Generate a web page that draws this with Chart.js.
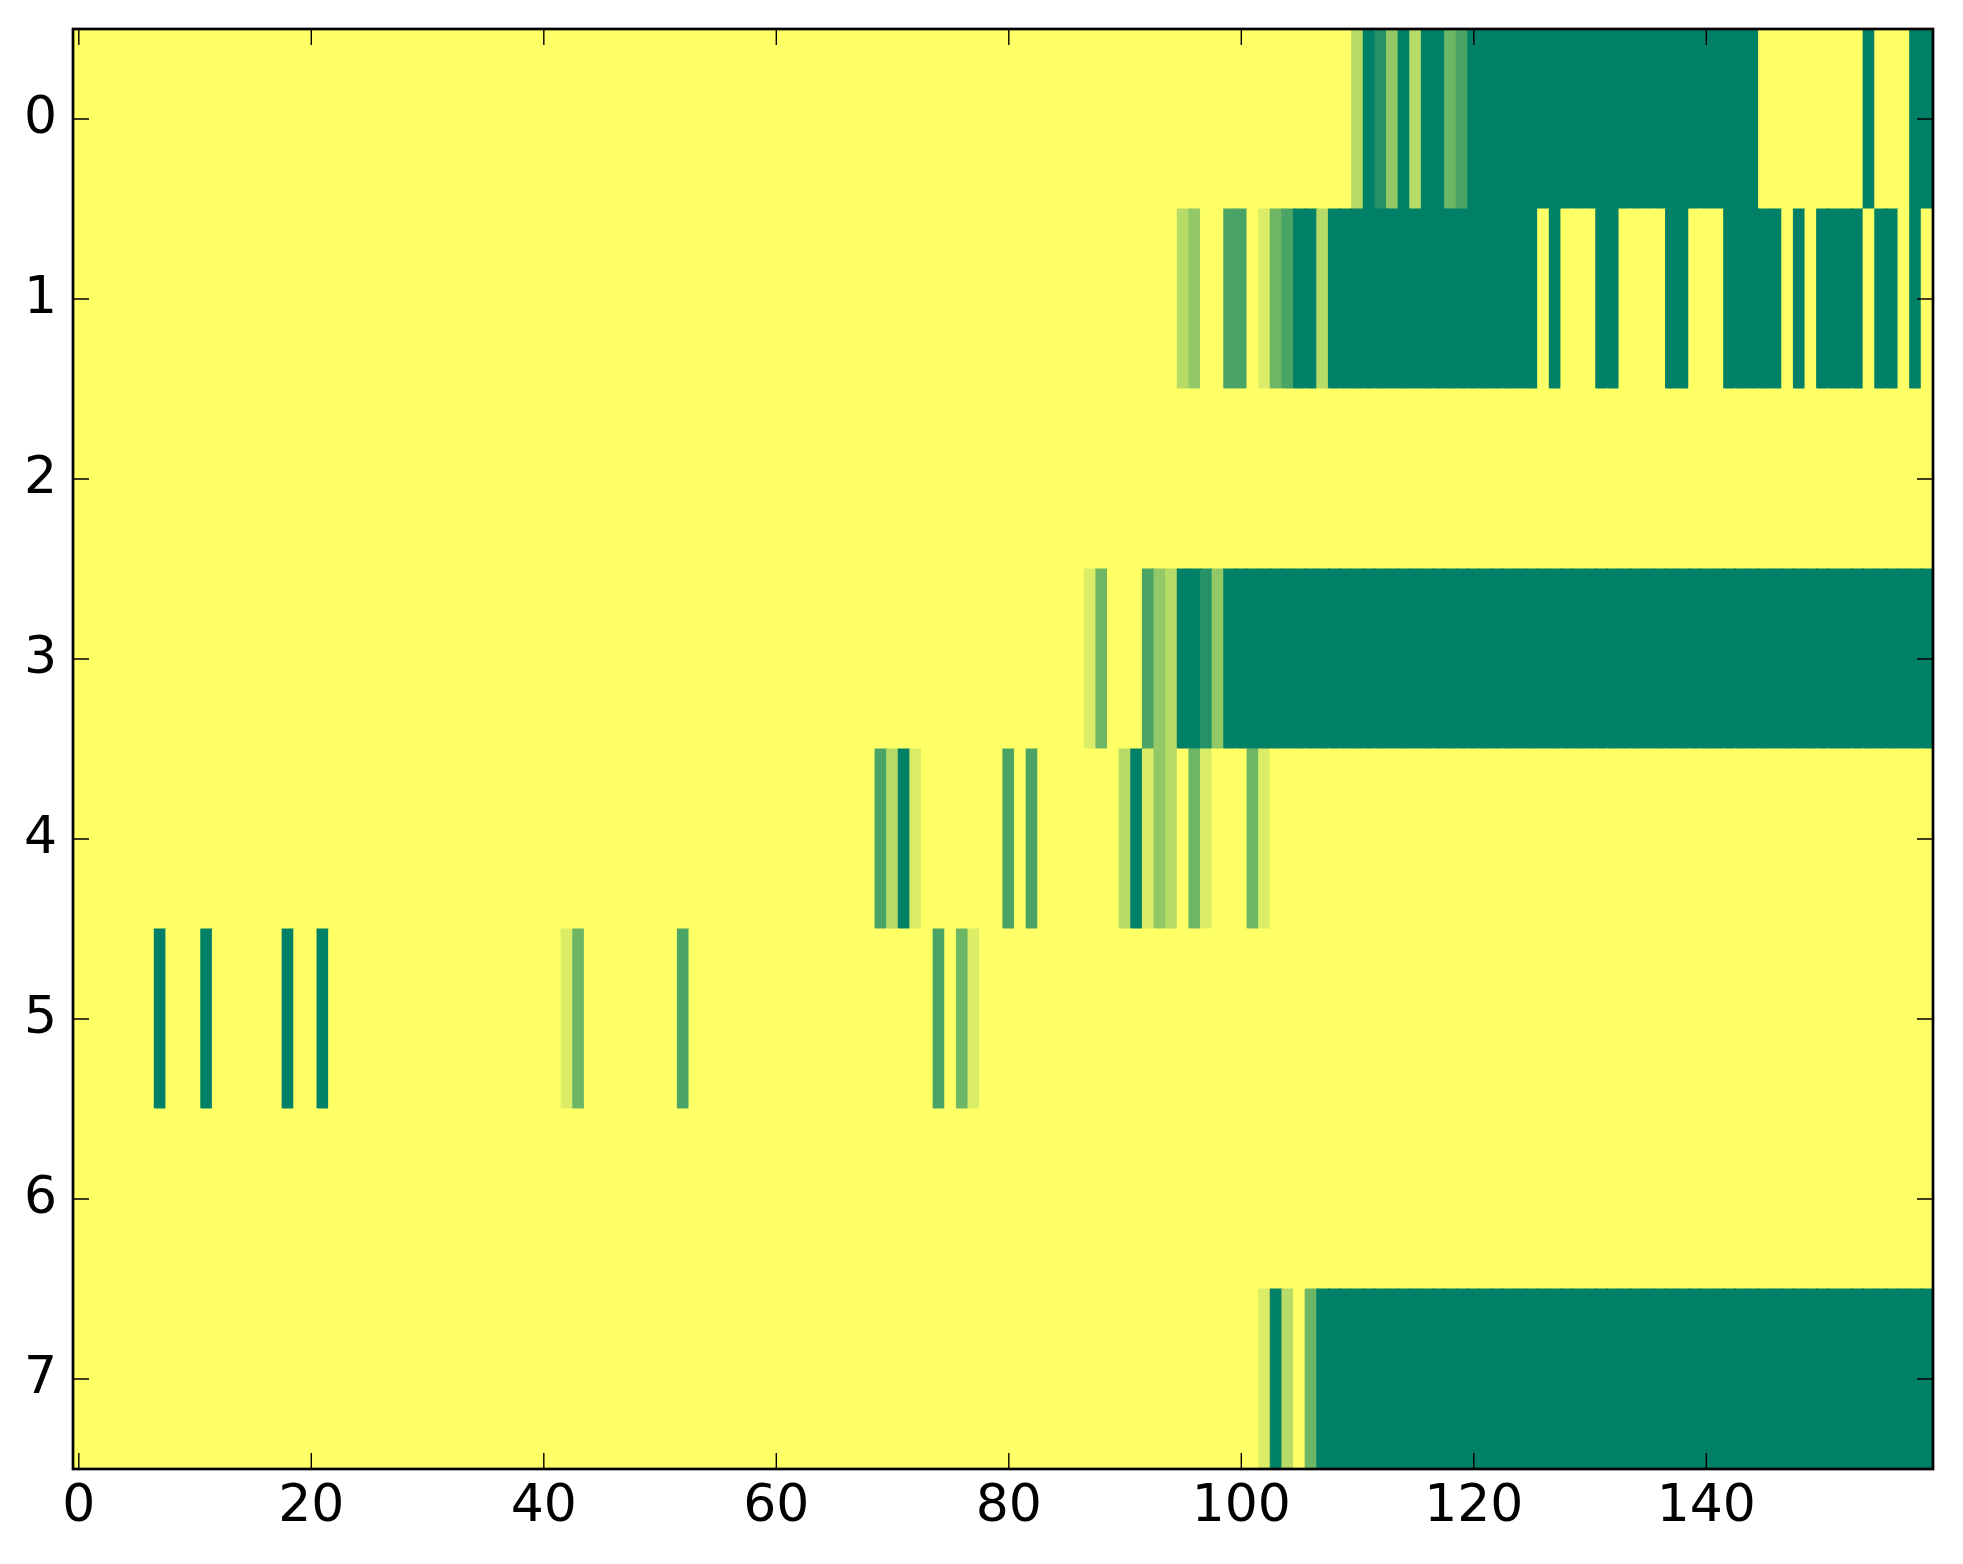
<!DOCTYPE html>
<html>
<head>
<meta charset="utf-8">
<title>heatmap</title>
<script src="https://cdn.jsdelivr.net/npm/chart.js@4.4.0/dist/chart.umd.min.js"></script>
<style>
    html, body { margin: 0; padding: 0; background: #ffffff; }
    canvas { display: block; }
</style>
</head>
<body>
<canvas id="heat" width="1963" height="1564"></canvas>
<script>
// row labels (y) and x tick labels
const rowLabels = ['0', '1', '2', '3', '4', '5', '6', '7']
const xTicks = [0, 20, 40, 60, 80, 100, 120, 140]
const maxLevel = 7

// cell values, one array per row, 160 columns (0..159)
const row0 = [
    0,0,0,0,0,0,0,0,0,0, 0,0,0,0,0,0,0,0,0,0,
    0,0,0,0,0,0,0,0,0,0, 0,0,0,0,0,0,0,0,0,0,
    0,0,0,0,0,0,0,0,0,0, 0,0,0,0,0,0,0,0,0,0,
    0,0,0,0,0,0,0,0,0,0, 0,0,0,0,0,0,0,0,0,0,
    0,0,0,0,0,0,0,0,0,0, 0,0,0,0,0,0,0,0,0,0,
    0,0,0,0,0,0,0,0,0,0, 2,7,6,3,7,2,7,7,4,5,
    7,7,7,7,7,7,7,7,7,7, 7,7,7,7,7,7,7,7,7,7,
    7,7,7,7,7,0,0,0,0,0, 0,0,0,0,7,0,0,0,7,7,
]
const row1 = [
    0,0,0,0,0,0,0,0,0,0, 0,0,0,0,0,0,0,0,0,0,
    0,0,0,0,0,0,0,0,0,0, 0,0,0,0,0,0,0,0,0,0,
    0,0,0,0,0,0,0,0,0,0, 0,0,0,0,0,0,0,0,0,0,
    0,0,0,0,0,0,0,0,0,0, 0,0,0,0,0,0,0,0,0,0,
    0,0,0,0,0,0,0,0,0,0, 0,0,0,0,0,2,3,0,0,5,
    5,0,1,4,5,7,7,2,7,7, 7,7,7,7,7,7,7,7,7,7,
    7,7,7,7,7,7,0,7,0,0, 0,7,7,0,0,0,0,7,7,0,
    0,0,7,7,7,7,7,0,7,0, 7,7,7,7,0,7,7,0,7,0,
]
const row2 = [
    0,0,0,0,0,0,0,0,0,0, 0,0,0,0,0,0,0,0,0,0,
    0,0,0,0,0,0,0,0,0,0, 0,0,0,0,0,0,0,0,0,0,
    0,0,0,0,0,0,0,0,0,0, 0,0,0,0,0,0,0,0,0,0,
    0,0,0,0,0,0,0,0,0,0, 0,0,0,0,0,0,0,0,0,0,
    0,0,0,0,0,0,0,0,0,0, 0,0,0,0,0,0,0,0,0,0,
    0,0,0,0,0,0,0,0,0,0, 0,0,0,0,0,0,0,0,0,0,
    0,0,0,0,0,0,0,0,0,0, 0,0,0,0,0,0,0,0,0,0,
    0,0,0,0,0,0,0,0,0,0, 0,0,0,0,0,0,0,0,0,0,
]
const row3 = [
    0,0,0,0,0,0,0,0,0,0, 0,0,0,0,0,0,0,0,0,0,
    0,0,0,0,0,0,0,0,0,0, 0,0,0,0,0,0,0,0,0,0,
    0,0,0,0,0,0,0,0,0,0, 0,0,0,0,0,0,0,0,0,0,
    0,0,0,0,0,0,0,0,0,0, 0,0,0,0,0,0,0,0,0,0,
    0,0,0,0,0,0,0,1,4,0, 0,0,5,3,2,7,7,6,3,7,
    7,7,7,7,7,7,7,7,7,7, 7,7,7,7,7,7,7,7,7,7,
    7,7,7,7,7,7,7,7,7,7, 7,7,7,7,7,7,7,7,7,7,
    7,7,7,7,7,7,7,7,7,7, 7,7,7,7,7,7,7,7,7,7,
]
const row4 = [
    0,0,0,0,0,0,0,0,0,0, 0,0,0,0,0,0,0,0,0,0,
    0,0,0,0,0,0,0,0,0,0, 0,0,0,0,0,0,0,0,0,0,
    0,0,0,0,0,0,0,0,0,0, 0,0,0,0,0,0,0,0,0,0,
    0,0,0,0,0,0,0,0,0,5, 2,7,1,0,0,0,0,0,0,0,
    5,0,5,0,0,0,0,0,0,0, 2,7,1,3,2,0,4,1,0,0,
    0,4,1,0,0,0,0,0,0,0, 0,0,0,0,0,0,0,0,0,0,
    0,0,0,0,0,0,0,0,0,0, 0,0,0,0,0,0,0,0,0,0,
    0,0,0,0,0,0,0,0,0,0, 0,0,0,0,0,0,0,0,0,0,
]
const row5 = [
    0,0,0,0,0,0,0,7,0,0, 0,7,0,0,0,0,0,0,7,0,
    0,7,0,0,0,0,0,0,0,0, 0,0,0,0,0,0,0,0,0,0,
    0,0,1,4,0,0,0,0,0,0, 0,0,5,0,0,0,0,0,0,0,
    0,0,0,0,0,0,0,0,0,0, 0,0,0,0,5,0,4,1,0,0,
    0,0,0,0,0,0,0,0,0,0, 0,0,0,0,0,0,0,0,0,0,
    0,0,0,0,0,0,0,0,0,0, 0,0,0,0,0,0,0,0,0,0,
    0,0,0,0,0,0,0,0,0,0, 0,0,0,0,0,0,0,0,0,0,
    0,0,0,0,0,0,0,0,0,0, 0,0,0,0,0,0,0,0,0,0,
]
const row6 = [
    0,0,0,0,0,0,0,0,0,0, 0,0,0,0,0,0,0,0,0,0,
    0,0,0,0,0,0,0,0,0,0, 0,0,0,0,0,0,0,0,0,0,
    0,0,0,0,0,0,0,0,0,0, 0,0,0,0,0,0,0,0,0,0,
    0,0,0,0,0,0,0,0,0,0, 0,0,0,0,0,0,0,0,0,0,
    0,0,0,0,0,0,0,0,0,0, 0,0,0,0,0,0,0,0,0,0,
    0,0,0,0,0,0,0,0,0,0, 0,0,0,0,0,0,0,0,0,0,
    0,0,0,0,0,0,0,0,0,0, 0,0,0,0,0,0,0,0,0,0,
    0,0,0,0,0,0,0,0,0,0, 0,0,0,0,0,0,0,0,0,0,
]
const row7 = [
    0,0,0,0,0,0,0,0,0,0, 0,0,0,0,0,0,0,0,0,0,
    0,0,0,0,0,0,0,0,0,0, 0,0,0,0,0,0,0,0,0,0,
    0,0,0,0,0,0,0,0,0,0, 0,0,0,0,0,0,0,0,0,0,
    0,0,0,0,0,0,0,0,0,0, 0,0,0,0,0,0,0,0,0,0,
    0,0,0,0,0,0,0,0,0,0, 0,0,0,0,0,0,0,0,0,0,
    0,0,1,7,2,0,4,7,7,7, 7,7,7,7,7,7,7,7,7,7,
    7,7,7,7,7,7,7,7,7,7, 7,7,7,7,7,7,7,7,7,7,
    7,7,7,7,7,7,7,7,7,7, 7,7,7,7,7,7,7,7,7,7,
]
const rows = [row0, row1, row2, row3, row4, row5, row6, row7]

// matplotlib 'summer_r': 0 -> yellow, max -> dark green
function summerR(v) {
    var s = 1 - v / maxLevel
    return 'rgb(' + Math.round(255 * s) + ',' + Math.round(255 * (0.5 + 0.5 * s)) + ',102)'
}

// one floating bar per cell
var cells = []
rows.forEach(function(vals, r) {
    vals.forEach(function(v, c) {
        cells.push({x: [c - 0.5, c + 0.5], y: rowLabels[r], v: v})
    })
})

var tickFont = {family: 'DejaVu Sans', size: 52}

// inward ticks on all four sides plus the black frame
const framePlugin = {
    id: 'frame',
    afterDraw(chart) {
        var ctx = chart.ctx
        var a = chart.chartArea
        var x = chart.scales.x
        var y = chart.scales.y
        var len = 16
        ctx.save()
        ctx.strokeStyle = '#000000'
        ctx.lineWidth = 1.4
        ctx.beginPath()
        for (let i = 0; i < x.ticks.length; i++) {
            let px = x.getPixelForTick(i)
            ctx.moveTo(px, a.bottom)
            ctx.lineTo(px, a.bottom - len)
            ctx.moveTo(px, a.top)
            ctx.lineTo(px, a.top + len)
        }
        for (let i = 0; i < y.ticks.length; i++) {
            let py = y.getPixelForTick(i)
            ctx.moveTo(a.left, py)
            ctx.lineTo(a.left + len, py)
            ctx.moveTo(a.right, py)
            ctx.lineTo(a.right - len, py)
        }
        ctx.stroke()
        ctx.lineWidth = 2.7
        ctx.strokeRect(a.left, a.top, a.right - a.left, a.bottom - a.top)
        ctx.restore()
    }
}

new Chart(document.getElementById('heat'), {
    type: 'bar',
    data: {
        labels: rowLabels,
        datasets: [{
            data: cells,
            backgroundColor: function(c) {
                return summerR(c.raw ? c.raw.v : 0)
            },
            borderWidth: 0,
            barPercentage: 1.0,
            categoryPercentage: 1.0,
            inflateAmount: 0.6,
        }],
    },
    options: {
        indexAxis: 'y',
        responsive: false,
        animation: false,
        devicePixelRatio: 1,
        layout: {
            padding: {top: 29, right: 30, left: 0, bottom: 0},
        },
        plugins: {
            legend: {display: false},
            tooltip: {enabled: false},
        },
        scales: {
            x: {
                type: 'linear',
                min: -0.5,
                max: 159.5,
                afterBuildTicks: function(scale) {
                    scale.ticks = xTicks.map(function(v) { return {value: v} })
                },
                afterFit: function(scale) {
                    scale.height = 95
                    scale.paddingLeft = 0
                    scale.paddingRight = 0
                },
                grid: {display: false, drawTicks: false},
                border: {display: false},
                ticks: {
                    font: tickFont,
                    color: '#000000',
                    padding: 7,
                    maxRotation: 0,
                    autoSkip: false,
                },
            },
            y: {
                type: 'category',
                offset: true,
                afterFit: function(scale) {
                    scale.width = 73
                    scale.paddingTop = 0
                    scale.paddingBottom = 0
                },
                grid: {display: false, drawTicks: false},
                border: {display: false},
                ticks: {
                    font: tickFont,
                    color: '#000000',
                    padding: 16,
                },
            },
        },
    },
    plugins: [framePlugin],
})
</script>
</body>
</html>
